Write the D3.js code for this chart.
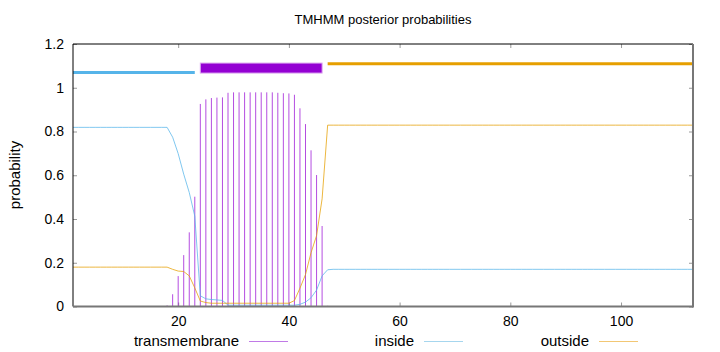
<!DOCTYPE html>
<html>
<head>
<meta charset="utf-8">
<script src="https://cdnjs.cloudflare.com/ajax/libs/d3/7.8.5/d3.min.js"></script>
<style>
  body { margin: 0; background: #fff; }
  text { font-family: "Liberation Sans", Arial, sans-serif; fill: #000; }
</style>
</head>
<body>
<script>
// residue positions 1..113
const residues = d3.range(1, 114);

// posterior probability per residue
const inside = [
  0.819,0.819,0.819,0.819,0.819,0.819,0.819,0.819,0.819,0.819,
  0.819,0.819,0.819,0.819,0.819,0.819,0.819,0.819,0.774,0.699,
  0.605,0.521,0.413,0.049,0.035,0.032,0.030,0.028,0.006,0.006,
  0.006,0.006,0.006,0.006,0.006,0.006,0.006,0.006,0.006,0.006,
  0.006,0.010,0.020,0.040,0.075,0.140,0.168,0.170,0.170,0.170,
  0.170,0.170,0.170,0.170,0.170,0.170,0.170,0.170,0.170,0.170,
  0.170,0.170,0.170,0.170,0.170,0.170,0.170,0.170,0.170,0.170,
  0.170,0.170,0.170,0.170,0.170,0.170,0.170,0.170,0.170,0.170,
  0.170,0.170,0.170,0.170,0.170,0.170,0.170,0.170,0.170,0.170,
  0.170,0.170,0.170,0.170,0.170,0.170,0.170,0.170,0.170,0.170,
  0.170,0.170,0.170,0.170,0.170,0.170,0.170,0.170,0.170,0.170,
  0.170,0.170,0.170
];
const outside = [
  0.180,0.180,0.180,0.180,0.180,0.180,0.180,0.180,0.180,0.180,
  0.180,0.180,0.180,0.180,0.180,0.180,0.180,0.180,0.170,0.162,
  0.160,0.140,0.085,0.025,0.018,0.015,0.015,0.015,0.015,0.015,
  0.015,0.015,0.015,0.015,0.015,0.015,0.015,0.015,0.015,0.015,
  0.027,0.084,0.146,0.246,0.324,0.492,0.829,0.829,0.829,0.829,
  0.829,0.829,0.829,0.829,0.829,0.829,0.829,0.829,0.829,0.829,
  0.829,0.829,0.829,0.829,0.829,0.829,0.829,0.829,0.829,0.829,
  0.829,0.829,0.829,0.829,0.829,0.829,0.829,0.829,0.829,0.829,
  0.829,0.829,0.829,0.829,0.829,0.829,0.829,0.829,0.829,0.829,
  0.829,0.829,0.829,0.829,0.829,0.829,0.829,0.829,0.829,0.829,
  0.829,0.829,0.829,0.829,0.829,0.829,0.829,0.829,0.829,0.829,
  0.829,0.829,0.829
];
const transmembrane = [
  0,0,0,0,0,0,0,0,0,0,
  0,0,0,0,0,0,0,0.005,0.056,0.139,
  0.235,0.339,0.502,0.926,0.947,0.953,0.955,0.956,0.977,0.979,
  0.979,0.979,0.979,0.979,0.979,0.979,0.979,0.977,0.975,0.974,
  0.968,0.906,0.834,0.714,0.601,0.368,0.003,0.002,0.002,0.002,
  0.002,0.002,0.002,0.002,0.002,0.002,0,0,0,0,
  0,0,0,0,0,0,0,0,0,0,
  0,0,0,0,0,0,0,0,0,0,
  0,0,0,0,0,0,0,0,0,0,
  0,0,0,0,0,0,0,0,0,0,
  0,0,0,0,0,0,0,0,0,0,
  0,0,0
];

// predicted topology drawn above the curves
const topoNames = ['inside', 'TMhelix', 'outside'];
const topoStart = [1, 24, 47];
const topoEnd = [23, 46, 113];
const topoLevel = [1.07, 1.09, 1.11];

const xTicks = [20, 40, 60, 80, 100];
const yTicks = [0, 0.2, 0.4, 0.6, 0.8, 1, 1.2];
const legendNames = ['transmembrane', 'inside', 'outside'];

const W = 720, H = 352;
const purple = '#9400d3', blue = '#56b4e9', orange = '#e69f00';

const svg = d3.select('body').append('svg').attr('width', W).attr('height', H);

const x = d3.scaleLinear().domain([1, 113]).range([73, 693]);
const y = d3.scaleLinear().domain([0, 1.2]).range([306.5, 44]);

// title + y label
svg.append('text').text('TMHMM posterior probabilities')
  .attr('x', 383).attr('y', 24).attr('text-anchor', 'middle').attr('font-size', '13px');
svg.append('text').text('probability')
  .attr('transform', 'translate(20,175) rotate(-90)')
  .attr('text-anchor', 'middle').attr('font-size', '15px');

// axes (ticks point inward like gnuplot)
const yAxisG = svg.append('g').attr('transform', `translate(${x(1)},0)`)
  .call(d3.axisLeft(y).tickValues(yTicks).tickFormat(d3.format('~g'))
    .tickSizeInner(-4).tickSizeOuter(0).tickPadding(9));
const yAxisR = svg.append('g').attr('transform', `translate(${x(113)},0)`)
  .call(d3.axisRight(y).tickValues(yTicks).tickFormat('').tickSizeInner(-4).tickSizeOuter(0));
const xAxisG = svg.append('g').attr('transform', `translate(0,${y(0)})`)
  .call(d3.axisBottom(x).tickValues(xTicks).tickFormat(d3.format('d'))
    .tickSizeInner(-4).tickSizeOuter(0).tickPadding(10));
const xAxisT = svg.append('g').attr('transform', `translate(0,${y(1.2)})`)
  .call(d3.axisTop(x).tickValues(xTicks).tickFormat('').tickSizeInner(-4).tickSizeOuter(0));
[yAxisG, yAxisR, xAxisG, xAxisT].forEach(g => {
  g.select('.domain').remove();
  g.selectAll('.tick line').attr('stroke', '#999');
  g.selectAll('.tick text').attr('font-size', '14px')
    .attr('font-family', '"Liberation Sans", Arial, sans-serif');
});

// transmembrane impulses
svg.append('g').selectAll('line')
  .data(residues.filter((r, i) => transmembrane[i] > 0))
  .enter().append('line')
  .attr('x1', r => x(r)).attr('x2', r => x(r))
  .attr('y1', y(0)).attr('y2', r => y(transmembrane[r - 1]))
  .attr('stroke', purple).attr('stroke-opacity', 0.7).attr('stroke-width', 1);

// inside / outside curves
const line = d3.line().x(d => x(d[0])).y(d => y(d[1]));
svg.append('path').attr('d', line(residues.map((r, i) => [r, inside[i]])))
  .attr('fill', 'none').attr('stroke', blue).attr('stroke-opacity', 0.75).attr('stroke-width', 1);
svg.append('path').attr('d', line(residues.map((r, i) => [r, outside[i]])))
  .attr('fill', 'none').attr('stroke', orange).attr('stroke-opacity', 0.75).attr('stroke-width', 1);

// topology bars
topoNames.forEach((name, i) => {
  if (name === 'TMhelix') {
    svg.append('rect')
      .attr('x', x(topoStart[i])).attr('width', x(topoEnd[i]) - x(topoStart[i]))
      .attr('y', y(topoLevel[i]) - 5).attr('height', 10)
      .attr('fill', purple).attr('stroke', '#dca6f0').attr('stroke-width', 1);
  } else {
    svg.append('line')
      .attr('x1', x(topoStart[i])).attr('x2', x(topoEnd[i]))
      .attr('y1', y(topoLevel[i])).attr('y2', y(topoLevel[i]))
      .attr('stroke', name === 'inside' ? blue : orange).attr('stroke-width', 3);
  }
});

// frame: top/left black, right/bottom grey
svg.append('line').attr('x1', x(1)).attr('x2', x(113)).attr('y1', y(1.2)).attr('y2', y(1.2)).attr('stroke', '#000');
svg.append('line').attr('x1', x(1)).attr('x2', x(1)).attr('y1', y(1.2)).attr('y2', y(0)).attr('stroke', '#000');
svg.append('line').attr('x1', x(1)).attr('x2', x(113)).attr('y1', y(0)).attr('y2', y(0)).attr('stroke', '#777').attr('stroke-width', 2);
svg.append('line').attr('x1', x(113)).attr('x2', x(113)).attr('y1', y(1.2)).attr('y2', y(0) + 1).attr('stroke', '#777').attr('stroke-width', 2);

// legend
const legendColor = ['#c07ae6', '#a6d6ee', '#f2c774'];
const legendRight = [239, 414, 589];
legendNames.forEach((name, i) => {
  svg.append('text').text(name).attr('x', legendRight[i]).attr('y', 346)
    .attr('text-anchor', 'end').attr('font-size', '15px');
  svg.append('line').attr('x1', legendRight[i] + 10).attr('x2', legendRight[i] + 49)
    .attr('y1', 341.5).attr('y2', 341.5)
    .attr('stroke', legendColor[i]).attr('stroke-width', 1);
});
</script>
</body>
</html>
